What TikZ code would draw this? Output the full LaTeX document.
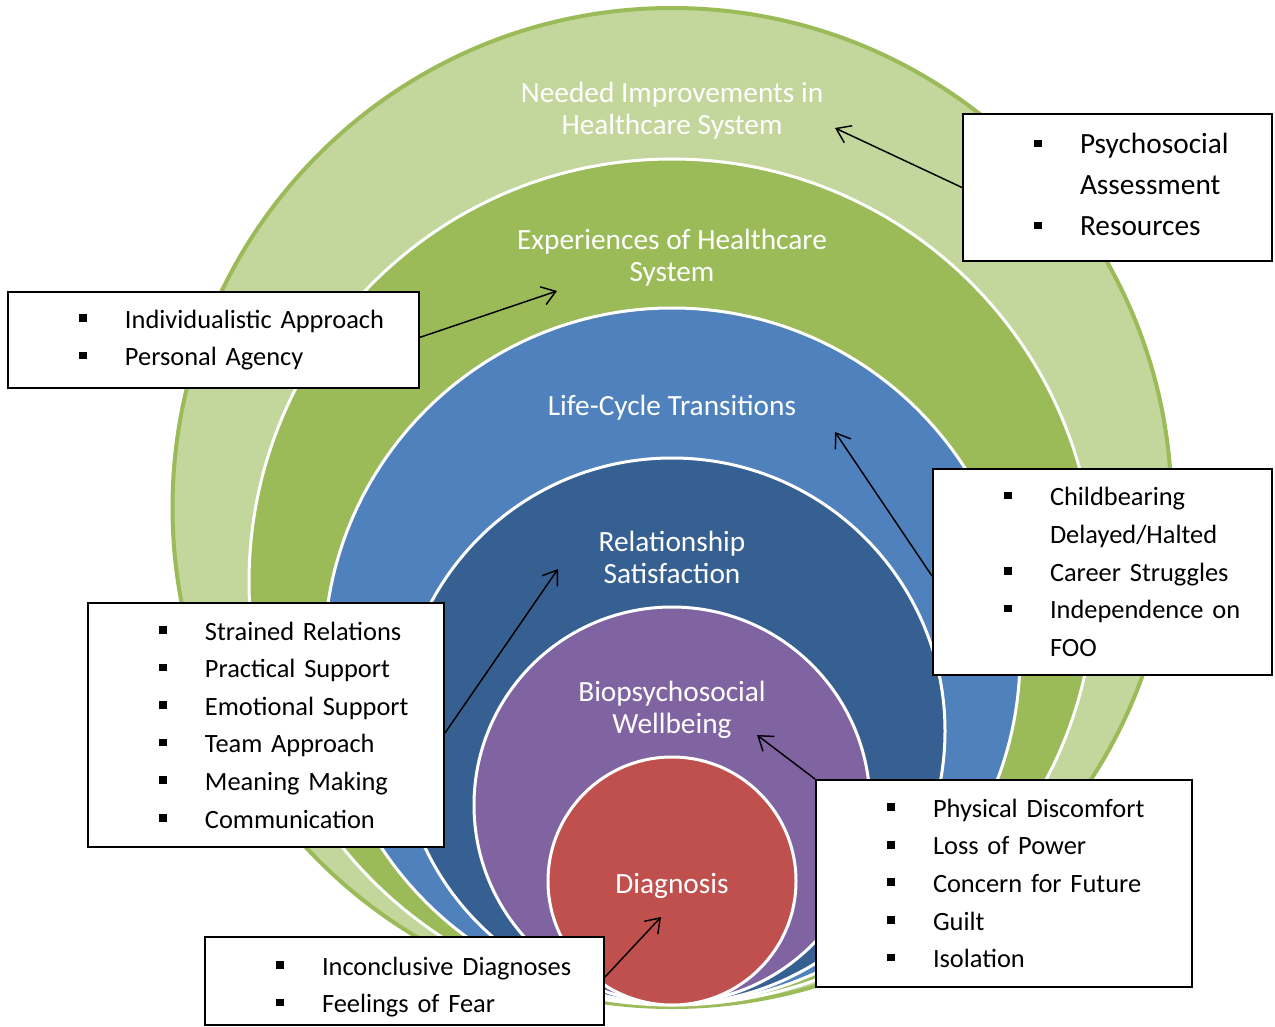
\documentclass[tikz,border=0pt]{standalone}
\usepackage{fontspec}
\setmainfont{Carlito}
\usepackage{tikz}
\usetikzlibrary{arrows.meta}

\definecolor{palegreen}{HTML}{C3D69B}
\definecolor{leafgreen}{HTML}{9BBB59}
\definecolor{skyblue}{HTML}{4F81BD}
\definecolor{navyblue}{HTML}{376092}
\definecolor{plum}{HTML}{8064A2}
\definecolor{brickred}{HTML}{C0504D}

% bullet item and continuation line of a list box
\newcommand{\bitem}[1]{\makebox[87.75pt][l]{\hspace*{53.6pt}\rule[4.8pt]{5.8pt}{5.8pt}}#1}
\newcommand{\citem}[1]{\hspace*{87.75pt}#1}

\begin{document}
\begin{tikzpicture}[x=0.75pt,y=0.75pt,yscale=-1,xscale=1,
  ring/.style={draw=white,line width=2.25pt},
  ringlabel/.style={text=white,align=center,inner sep=0.75pt,font=\fontsize{22}{24}\selectfont},
  listbox/.style={draw=black,line width=1.5pt,fill=white,inner xsep=0pt,inner ysep=0pt,align=left,font=\fontsize{19.8}{28.2}\selectfont},
  pointer/.style={-{Straight Barb[length=10pt,width=14pt]},line width=1.1pt}]
\useasboundingbox (0,0) rectangle (1275,1027);

%Shape: Circle [outer ring]
\draw [draw=leafgreen,line width=3pt,fill=palegreen] (672,507.5) circle (499.5) ;
%Shape: Circle
\draw [ring,fill=leafgreen] (672,582) circle (423) ;
%Shape: Circle
\draw [ring,fill=skyblue] (672,656) circle (348) ;
%Shape: Circle
\draw [ring,fill=navyblue] (672,731) circle (273) ;
%Shape: Circle
\draw [ring,fill=plum] (672,805) circle (198) ;
%Shape: Circle
\draw [ring,fill=brickred] (672,881) circle (124) ;

% Ring labels
\node [ringlabel] (lblneeds) at (672,110.5) {Needed Improvements in\\Healthcare System};
\node [ringlabel] (lblexp) at (672,258) {Experiences of Healthcare\\System};
\node [ringlabel] (lbllife) at (672,408) {Life-Cycle Transitions};
\node [ringlabel] (lblrel) at (672,557.5) {Relationship\\Satisfaction};
\node [ringlabel] (lblbio) at (672,710) {Biopsychosocial\\Wellbeing};
\node [ringlabel] (lbldiag) at (672,886) {Diagnosis};

% List boxes
\node [listbox,text width=231.75pt,minimum height=110.25pt,font=\fontsize{22}{30.75}\selectfont] (boxsys) at (1117.5,187.5)
  {\bitem{Psychosocial}\\\citem{Assessment}\\\bitem{Resources}\rule[-4.5pt]{0pt}{1pt}};
\node [listbox,text width=308.25pt,minimum height=72pt] (boxexp) at (213.5,340)
  {\bitem{Individualistic Approach}\\\bitem{Personal Agency}};
\node [listbox,text width=254.25pt,minimum height=154.5pt] (boxlife) at (1102.5,572)
  {\bitem{Childbearing}\\\citem{Delayed/Halted}\\\bitem{Career Struggles}\\\bitem{Independence on}\\\citem{FOO}};
\node [listbox,text width=267pt,minimum height=183pt] (boxrel) at (266,725)
  {\bitem{Strained Relations}\\\bitem{Practical Support}\\\bitem{Emotional Support}\\\bitem{Team Approach}\\\bitem{Meaning Making}\\\bitem{Communication}};
\node [listbox,text width=282pt,minimum height=155.25pt] (boxbio) at (1004,883.5)
  {\bitem{Physical Discomfort}\\\bitem{Loss of Power}\\\bitem{Concern for Future}\\\bitem{Guilt}\\\bitem{Isolation}};
\node [listbox,text width=299.25pt,minimum height=66pt] (boxdiag) at (404.5,981)
  {\rule{0pt}{23pt}\bitem{Inconclusive Diagnoses}\\\bitem{Feelings of Fear}};

% Arrow tips
\coordinate (tipneeds) at (835,128);
\coordinate (tipexp) at (557,291);
\coordinate (tiplife) at (835,432);
\coordinate (tiprel) at (558,569);
\coordinate (tipbio) at (757,735);
\coordinate (tipdiag) at (661,917);

% Pointers
\draw [pointer] (boxsys.west) -- (tipneeds) ;
\draw [pointer] ([yshift=-2pt]boxexp.east) -- (tipexp) ;
\draw [pointer] ([yshift=3pt]boxlife.west) -- (tiplife) ;
\draw [pointer] ([yshift=6pt]boxrel.east) -- (tiprel) ;
\draw [pointer] (boxbio.north west) -- (tipbio) ;
\draw [pointer] ([yshift=-3pt]boxdiag.east) -- (tipdiag) ;

\end{tikzpicture}
\end{document}
